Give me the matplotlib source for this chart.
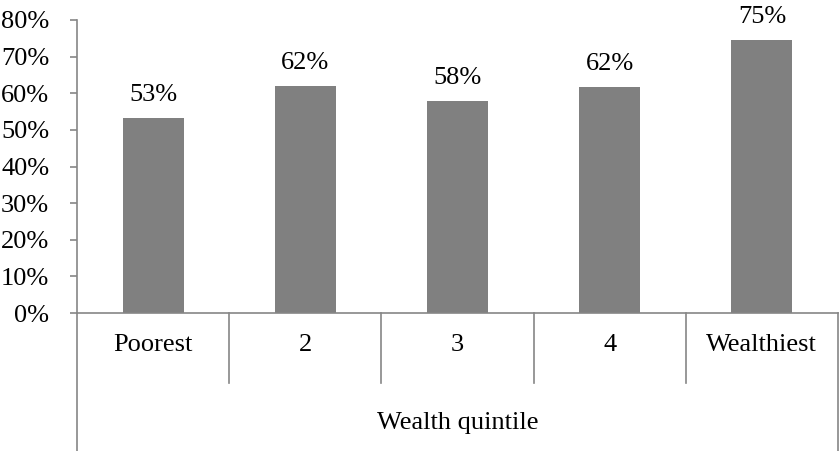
import matplotlib

matplotlib.use("Agg")
import matplotlib.pyplot as plt
import matplotlib.transforms as mtransforms
from matplotlib.ticker import FuncFormatter

# Share of households by wealth quintile
categories = ["Poorest", "2", "3", "4", "Wealthiest"]
values = [0.532, 0.620, 0.580, 0.617, 0.746]
value_labels = ["53%", "62%", "58%", "62%", "75%"]
group_label = "Wealth quintile"
y_ticks = [0.0, 0.1, 0.2, 0.3, 0.4, 0.5, 0.6, 0.7, 0.8]

BAR_COLOR = "#808080"
LINE_COLOR = "#868686"
FONT = "Liberation Serif"
FS = 19

plt.rcParams["font.family"] = FONT

W, H = 839, 451
fig = plt.figure(figsize=(W / 100, H / 100), dpi=100)
ax = fig.add_axes([77 / W, 1 - 313 / H, (838 - 77) / W, (313 - 20) / H])

x = range(len(categories))
ax.bar(x, values, width=0.4, color=BAR_COLOR, edgecolor="none", zorder=2)
for xi, v, lab in zip(x, values, value_labels):
    ax.annotate(lab, (xi, v), xytext=(0, 16.5), textcoords="offset points",
                ha="center", va="center", fontsize=FS, annotation_clip=False)

ax.set_xlim(-0.5, len(categories) - 0.5)
ax.set_ylim(0, 0.8)
ax.set_yticks(y_ticks)
ax.yaxis.set_major_formatter(FuncFormatter(lambda v, _: f"{v * 100:.0f}%"))
ax.tick_params(axis="y", direction="out", length=5, width=1.2,
               color=LINE_COLOR, labelsize=FS, pad=15)
ax.set_xticks([])

for side in ("top", "right"):
    ax.spines[side].set_visible(False)
for side in ("left", "bottom"):
    ax.spines[side].set_color(LINE_COLOR)
    ax.spines[side].set_linewidth(1.2)

# multi-level category axis drawn under the plot
trans = mtransforms.blended_transform_factory(ax.transData, ax.transAxes)
sep_bottom = (313 - 383) / 293
box_bottom = (313 - 460) / 293
for i in range(1, len(categories)):
    ax.plot([i - 0.5, i - 0.5], [0, sep_bottom], transform=trans,
            color=LINE_COLOR, lw=1.2, clip_on=False)
for edge in (-0.5, len(categories) - 0.5):
    ax.plot([edge, edge], [0, box_bottom], transform=trans,
            color=LINE_COLOR, lw=1.2, clip_on=False)

for xi, cat in zip(x, categories):
    ax.text(xi, (313 - 345) / 293, cat, transform=trans,
            ha="center", va="center", fontsize=FS)
ax.text(0.5, (313 - 423) / 293, group_label, transform=ax.transAxes,
        ha="center", va="center", fontsize=FS)

fig.savefig("out.png", dpi=100)
